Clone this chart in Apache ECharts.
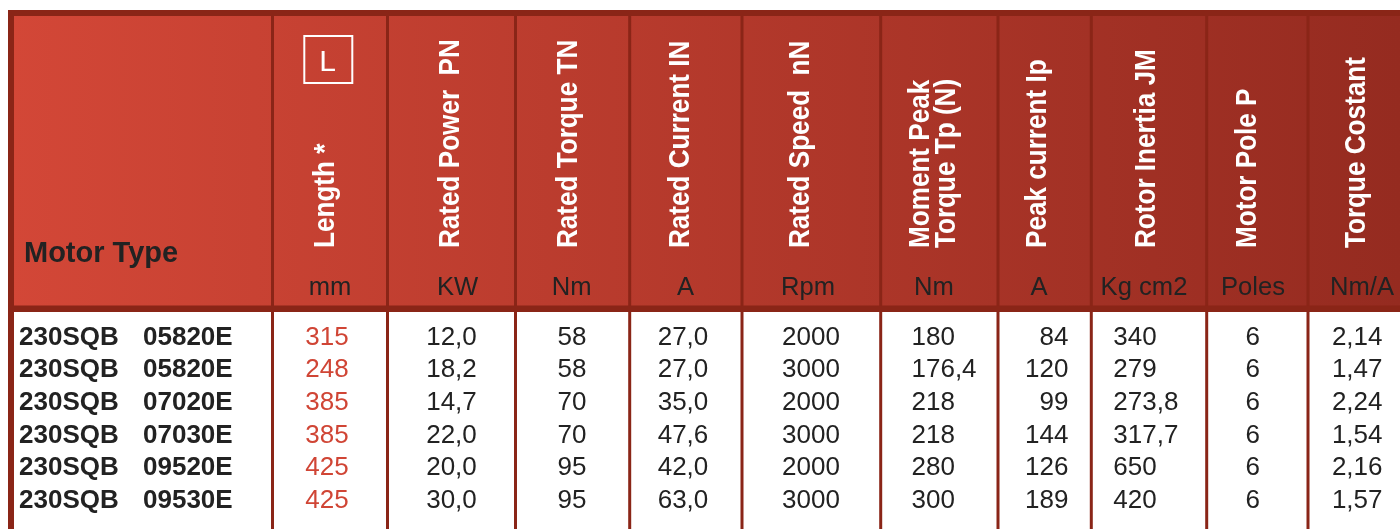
<!DOCTYPE html>
<html>
<head>
<meta charset="utf-8">
<script src="https://cdn.jsdelivr.net/npm/echarts@6/dist/echarts.min.js"></script>
<style>
html,body{margin:0;padding:0;background:#fff;}
#c{width:1400px;height:529px;}
</style>
</head>
<body>
<div id="c"></div>
<script>
// ---------- DATA ----------
const motorTypes = ['230SQB 05820E', '230SQB 05820E', '230SQB 07020E', '230SQB 07030E', '230SQB 09520E', '230SQB 09530E'];
const lengthMm = [315, 248, 385, 385, 425, 425];
const ratedPowerKW = [12.0, 18.2, 14.7, 22.0, 20.0, 30.0];
const ratedTorqueNm = [58, 58, 70, 70, 95, 95];
const ratedCurrentA = [27.0, 27.0, 35.0, 47.6, 42.0, 63.0];
const ratedSpeedRpm = [2000, 3000, 2000, 3000, 2000, 3000];
const peakTorqueNm = [180, 176.4, 218, 218, 280, 300];
const peakCurrentA = [84, 120, 99, 144, 126, 189];
const rotorInertiaKgcm2 = [340, 279, 273.8, 317.7, 650, 420];
const motorPoles = [6, 6, 6, 6, 6, 6];
const torqueConstantNmA = [2.14, 1.47, 2.24, 1.54, 2.16, 1.57];

const headerLabels = ['Length *', 'Rated Power  PN', 'Rated Torque TN', 'Rated Current IN', 'Rated Speed  nN',
  'Moment Peak\nTorque Tp (N)', 'Peak current Ip', 'Rotor Inertia JM', 'Motor Pole P', 'Torque Costant'];
const unitLabels = ['mm', 'KW', 'Nm', 'A', 'Rpm', 'Nm', 'A', 'Kg cm2', 'Poles', 'Nm/A'];
const firstColumnTitle = 'Motor Type';
const lengthSymbol = 'L';

// ---------- FORMATTERS ----------
const fmtAuto = v => String(v).replace('.', ',');
const fmt1 = v => v.toFixed(1).replace('.', ',');
const fmt2 = v => v.toFixed(2).replace('.', ',');

// ---------- LAYOUT / STYLE ----------
const W = 1400, H = 529;
const FAMILY = 'Liberation Sans, Arial, Helvetica, sans-serif';
const RED = '#d04535';
const BORDER = '#8a2517';
const TEXT = '#222222';
const separatorsX = [272.5, 387.5, 515.5, 629.7, 742, 880.7, 998, 1091.3, 1206.7, 1308];
const headerTextX = [325.5, 451, 569, 680.5, 801, 934, 1037.5, 1147, 1248, 1357];
const unitX = [330, 457.5, 571.7, 685.5, 808, 934, 1039, 1144, 1253, 1362];

const bodyColumns = [
  { values: lengthMm, fmt: fmtAuto, x: 327, align: 'center', color: RED },
  { values: ratedPowerKW, fmt: fmt1, x: 451.5, align: 'center', color: TEXT },
  { values: ratedTorqueNm, fmt: fmtAuto, x: 572, align: 'center', color: TEXT },
  { values: ratedCurrentA, fmt: fmt1, x: 683, align: 'center', color: TEXT },
  { values: ratedSpeedRpm, fmt: fmtAuto, x: 811, align: 'center', color: TEXT },
  { values: peakTorqueNm, fmt: fmtAuto, x: 911.5, align: 'left', color: TEXT },
  { values: peakCurrentA, fmt: fmtAuto, x: 1068.5, align: 'right', color: TEXT },
  { values: rotorInertiaKgcm2, fmt: fmtAuto, x: 1113.3, align: 'left', color: TEXT },
  { values: motorPoles, fmt: fmtAuto, x: 1252.7, align: 'center', color: TEXT },
  { values: torqueConstantNmA, fmt: fmt2, x: 1382.5, align: 'right', color: TEXT }
];

function txt(text, size, weight, fill, align, extra) {
  const s = { text: text, align: align, verticalAlign: 'middle', fontFamily: FAMILY, fontSize: size, fontWeight: weight, fill: fill };
  if (extra) Object.assign(s, extra);
  return s;
}

const chart = echarts.init(document.getElementById('c'), null, { renderer: 'canvas' });

function rectFrom(api, x0, y0, x1, y1) {
  const a = api.coord([x0, y0]);
  const b = api.coord([x1, y1]);
  return { x: a[0], y: a[1], width: b[0] - a[0], height: b[1] - a[1] };
}

const frameSeries = {
  type: 'custom', xAxisIndex: 0, yAxisIndex: 0, silent: true, z: 1,
  data: [[0, 0]],
  renderItem: function (params, api) {
    const children = [];
    children.push({
      type: 'rect', shape: rectFrom(api, 8, 10, W, 312),
      style: { fill: new echarts.graphic.LinearGradient(0, 0, 1, 0, [
        { offset: 0, color: '#d34737' }, { offset: 1, color: '#952b20' }]) }
    });
    separatorsX.forEach(function (sx) {
      children.push({ type: 'rect', shape: rectFrom(api, sx - 1.5, 16, sx + 1.5, H), style: { fill: BORDER } });
    });
    children.push({ type: 'rect', shape: rectFrom(api, 8, 10, W, 16), style: { fill: BORDER } });
    children.push({ type: 'rect', shape: rectFrom(api, 8, 305.5, W, 312), style: { fill: BORDER } });
    children.push({ type: 'rect', shape: rectFrom(api, 8, 10, 14, H), style: { fill: BORDER } });
    const mt = api.coord([24, 253.5]);
    children.push({ type: 'text', x: mt[0], y: mt[1], style: txt(firstColumnTitle, 29, 'bold', TEXT, 'left') });
    children.push({ type: 'rect', shape: rectFrom(api, 304.3, 36, 352.3, 83),
      style: { fill: 'none', stroke: '#ffffff', lineWidth: 2 } });
    const lp = api.coord([327.5, 63]);
    children.push({ type: 'text', x: lp[0], y: lp[1], style: txt(lengthSymbol, 30, 'normal', '#ffffff', 'center') });
    return { type: 'group', children: children };
  }
};

const headerSeries = {
  type: 'custom', xAxisIndex: 0, yAxisIndex: 0, silent: true, z: 2,
  data: headerLabels.map(function (l, i) { return [i, 0]; }),
  renderItem: function (params, api) {
    const i = params.dataIndex;
    const hp = api.coord([headerTextX[i], 248]);
    const up = api.coord([unitX[i], 287.5]);
    return { type: 'group', children: [
      { type: 'text', x: hp[0], y: hp[1], rotation: Math.PI / 2, scaleX: 0.9,
        style: txt(headerLabels[i], 29, 'bold', '#ffffff', 'left', { lineHeight: 26 }) },
      { type: 'text', x: up[0], y: up[1], style: txt(unitLabels[i], 25.6, 'normal', TEXT, 'center') }
    ] };
  }
};

const bodyData = [];
motorTypes.forEach(function (m, r) {
  for (let c = 0; c <= bodyColumns.length; c++) bodyData.push([c, r]);
});

const bodySeries = {
  type: 'custom', xAxisIndex: 1, yAxisIndex: 1, silent: true, z: 3,
  data: bodyData,
  renderItem: function (params, api) {
    const c = api.value(0), r = api.value(1);
    if (c === 0) {
      const parts = motorTypes[r].split(/\s+/);
      const p1 = api.coord([19, r]);
      const p2 = api.coord([143, r]);
      return { type: 'group', children: [
        { type: 'text', x: p1[0], y: p1[1], style: txt(parts[0], 26, 'bold', TEXT, 'left') },
        { type: 'text', x: p2[0], y: p2[1], style: txt(parts[1], 26, 'bold', TEXT, 'left') }
      ] };
    }
    const col = bodyColumns[c - 1];
    const p = api.coord([col.x, r]);
    return { type: 'text', x: p[0], y: p[1], style: txt(col.fmt(col.values[r]), 26, 'normal', col.color, col.align) };
  }
};

chart.setOption({
  animation: false,
  backgroundColor: '#ffffff',
  grid: [
    { left: 0, top: 0, width: W, height: H },
    { left: 0, top: 321.2, width: W, height: 196 }
  ],
  xAxis: [
    { type: 'value', gridIndex: 0, min: 0, max: W, show: false },
    { type: 'value', gridIndex: 1, min: 0, max: W, show: false }
  ],
  yAxis: [
    { type: 'value', gridIndex: 0, min: 0, max: H, inverse: true, show: false },
    { type: 'category', gridIndex: 1, data: motorTypes.map(function (m, i) { return String(i); }), inverse: true, show: false }
  ],
  series: [frameSeries, headerSeries, bodySeries]
});
</script>
</body>
</html>
